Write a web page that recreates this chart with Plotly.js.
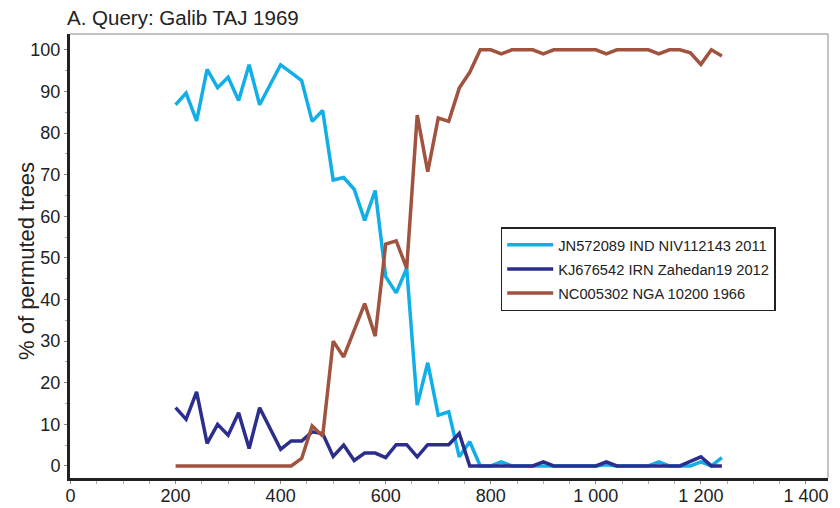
<!DOCTYPE html>
<html>
<head>
<meta charset="utf-8">
<script src="https://cdn.plot.ly/plotly-3.0.1.min.js"></script>
<style>html,body{margin:0;padding:0;background:#fff;}#chart{width:840px;height:508px;}</style>
</head>
<body>
<div id="chart"></div>
<script>
const positions = [200,220,240,260,280,300,320,340,360,380,400,420,440,460,480,500,520,540,560,580,600,620,640,660,680,700,720,740,760,780,800,820,840,860,880,900,920,940,960,980,1000,1020,1040,1060,1080,1100,1120,1140,1160,1180,1200,1220,1240];

const seriesNames = ["JN572089 IND NIV112143 2011", "KJ676542 IRN Zahedan19 2012", "NC005302 NGA 10200 1966"];

const jn572089 = [86.8,89.6,82.9,95.3,90.9,93.4,87.8,96.4,86.8,91.6,96.4,94.5,92.6,82.8,85.4,68.7,69.3,66.5,59,66.2,45.5,41.6,47.5,14.6,24.8,12.2,13,2.2,5.8,0,0,1,0,0,0,0,0,0,0,0,0,0.3,0,0,0,0,1,0,0,0,1,0,2];

const kj676542 = [14,11.2,17.8,5.4,10,7.4,12.8,4.2,14,9,4,6,6,8.2,7.8,2.3,5,1.3,3.1,3.1,2,5.1,5.1,2.2,5.1,5.1,5.1,7.8,0,0,0,0,0,0,0,1,0,0,0,0,0,1,0,0,0,0,0,0,0,1.1,2.2,0,0];

const nc005302 = [0,0,0,0,0,0,0,0,0,0,0,0,1.8,9.6,7.2,30,26.2,32.6,39,31.2,53.3,54.1,47.5,84.3,70.7,83.6,82.8,90.8,94.6,100,100,99,100,100,100,99,100,100,100,100,100,99,100,100,100,100,99,100,100,99.3,96.5,100,98.5];

const xTickVals = [0,200,400,600,800,1000,1200,1400];
const yTickVals = [0,10,20,30,40,50,60,70,80,90,100];

const titleText = "A. Query: Galib TAJ 1969";
const yTitleText = "% of permuted trees";

const colors = ["#12AEE8", "#2B2E8C", "#A0533E"];
const values = [jn572089, kj676542, nc005302];

const traces = values.map((v, i) => ({
  type: "scatter",
  mode: "lines",
  x: positions,
  y: v,
  name: seriesNames[i],
  legendgroup: "g" + i,
  line: {color: colors[i], width: 3.5},
  hoverinfo: "skip"
}));

const font = "Liberation Sans, Arial, sans-serif";

const layout = {
  width: 840,
  height: 508,
  margin: {l: 70, r: 12, t: 34, b: 30},
  paper_bgcolor: "#fff",
  plot_bgcolor: "#fff",
  separators: ". ",
  font: {family: font, color: "#222"},
  title: {
    text: titleText,
    font: {family: font, size: 20.5, color: "#222"},
    xref: "container", x: 67/840, xanchor: "left",
    yref: "container", y: 1 - 18/508, yanchor: "middle"
  },
  xaxis: {
    range: [-1, 1442],
    tickvals: xTickVals,
    separatethousands: true,
    showgrid: false,
    zeroline: false,
    showline: true,
    linecolor: "#222",
    linewidth: 3,
    ticks: "outside",
    ticklen: 3,
    tickwidth: 1,
    tickcolor: "#888",
    ticklabelstandoff: -4,
    tickfont: {family: font, size: 18, color: "#222"},
    minor: {dtick: 50, tick0: 0, ticks: "outside", ticklen: 3, tickcolor: "#aaa", showgrid: false}
  },
  yaxis: {
    range: [-2.9, 103.8],
    tickvals: yTickVals,
    showgrid: false,
    zeroline: false,
    showline: true,
    linecolor: "#222",
    linewidth: 3,
    ticks: "outside",
    ticklen: 3,
    tickwidth: 1,
    tickcolor: "#888",
    tickfont: {family: font, size: 18, color: "#222"},
    minor: {dtick: 5, tick0: 0, ticks: "outside", ticklen: 2, tickcolor: "#aaa", showgrid: false}
  },
  annotations: [
    {
      text: yTitleText,
      xref: "paper", yref: "paper",
      x: (26 - 70) / 758, y: (478 - 261) / 444,
      xanchor: "center", yanchor: "middle",
      textangle: -90, showarrow: false,
      font: {family: font, size: 22, color: "#222"}
    }
  ],
  shapes: [
    {type: "line", xref: "paper", yref: "paper", x0: 0, x1: 1, y0: 1, y1: 1, line: {color: "#888", width: 1}},
    {type: "line", xref: "paper", yref: "paper", x0: 1, x1: 1, y0: 0, y1: 1, line: {color: "#888", width: 1}}
  ],
  showlegend: true,
  legend: {
    x: (500.7 - 70) / 758,
    y: (478 - 227.3) / 444,
    xanchor: "left",
    yanchor: "top",
    bgcolor: "#fff",
    bordercolor: "#222",
    borderwidth: 1.5,
    itemwidth: 46,
    font: {family: font, size: 14.7, color: "#222"},
    traceorder: "grouped",
    tracegroupgap: 2
  }
};

Plotly.newPlot("chart", traces, layout, {displayModeBar: false, staticPlot: true});
</script>
</body>
</html>
